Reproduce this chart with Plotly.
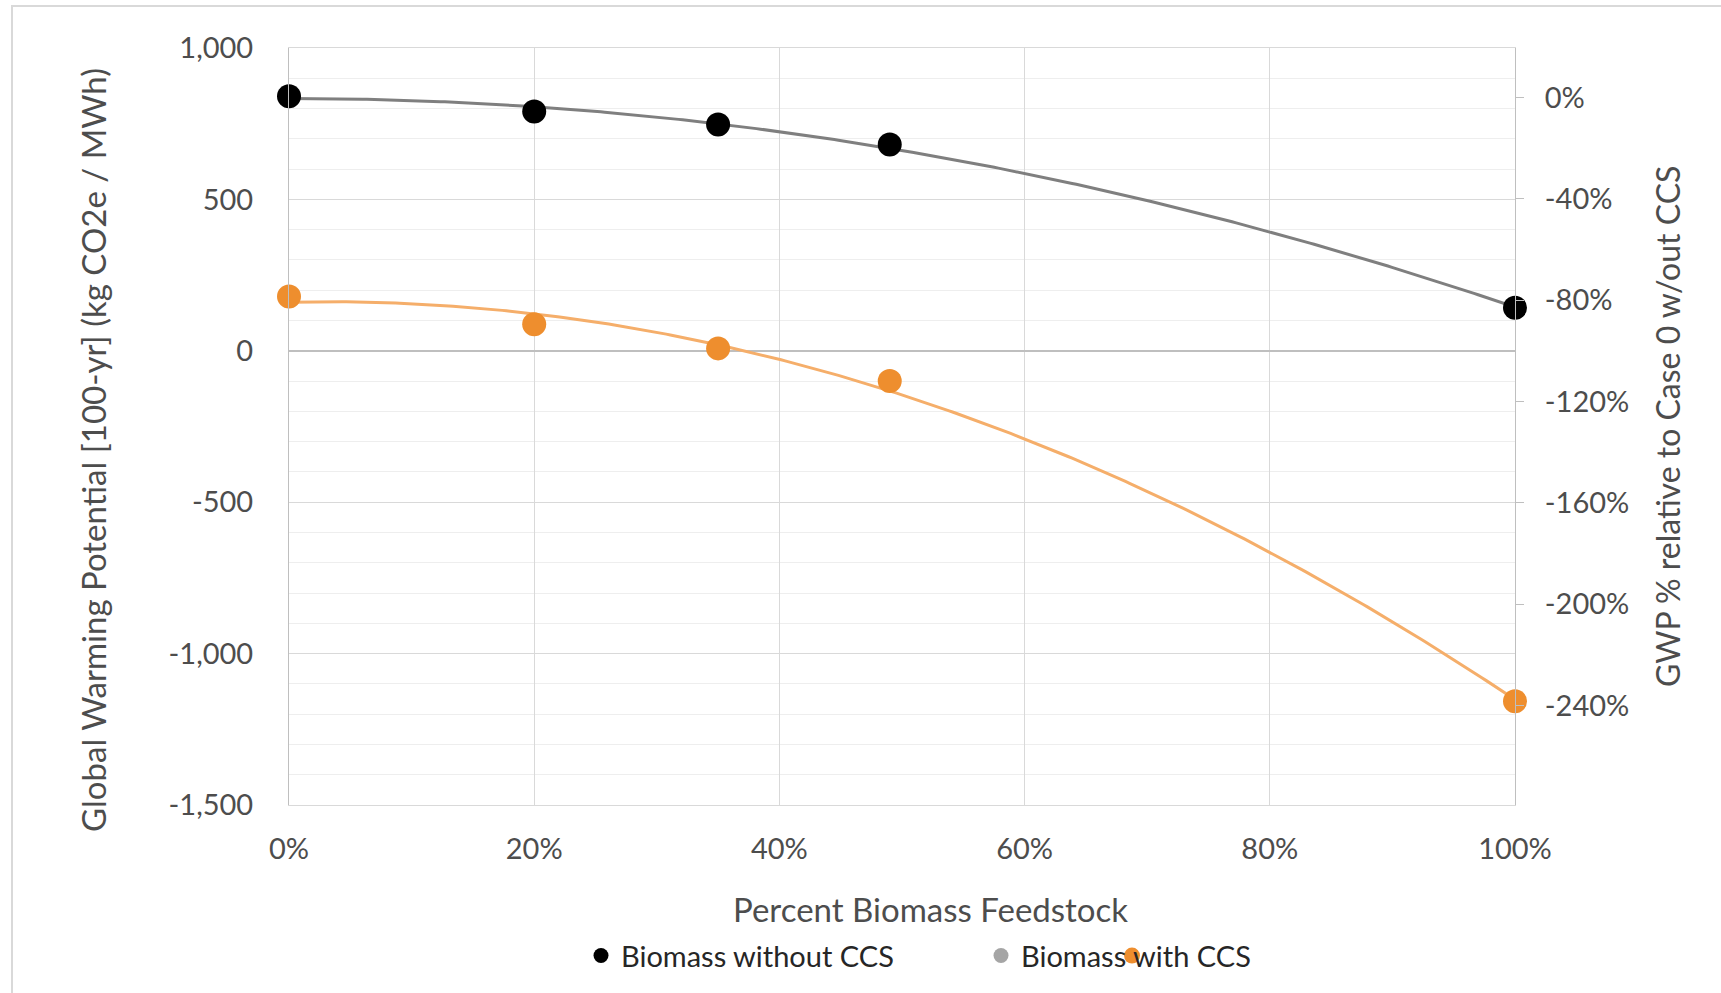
import numpy as np
import plotly.graph_objects as go

# ---------------- data ----------------
pct_biomass = [0.0, 0.20, 0.35, 0.49, 1.00]
gwp_without_ccs = [841, 790, 747, 681, 142]
gwp_with_ccs = [179, 88, 8, -100, -1157]

# value that the secondary (percent) axis treats as 0 %
gwp_case0_ref = 837

x_tick_vals = [0.0, 0.2, 0.4, 0.6, 0.8, 1.0]
x_tick_text = ["0%", "20%", "40%", "60%", "80%", "100%"]
y_tick_vals = [1000, 500, 0, -500, -1000, -1500]
y_tick_text = ["1,000", "500", "0", "-500", "-1,000", "-1,500"]
y2_tick_vals = [0.0, -0.4, -0.8, -1.2, -1.6, -2.0, -2.4, -2.8]
y2_tick_text = ["0%", "-40%", "-80%", "-120%", "-160%", "-200%", "-240%", "-280%"]

series_names = ["Biomass without CCS", "Biomass with CCS"]

# ---------------- figure ----------------
W, H = 1721, 993
L, R, T, B = 289, 206, 48, 186
pw, ph = W - L - R, H - T - B

def px(xp):
    return (xp - L) / pw

def py(yp):
    return (H - B - yp) / ph

FONT = "Lato"
TXT = "#4D4D4D"
TICK_SIZE = 29
TITLE_SIZE = 33

fig = go.Figure()

xs = np.linspace(0, 1, 300)
c1 = np.polyfit(pct_biomass, gwp_without_ccs, 2)
c2 = np.polyfit(pct_biomass, gwp_with_ccs, 2)

fig.add_trace(go.Scatter(x=xs, y=np.polyval(c1, xs), mode="lines",
                         line=dict(color="#7F7F7F", width=3),
                         showlegend=False, hoverinfo="skip", cliponaxis=False))
fig.add_trace(go.Scatter(x=xs, y=np.polyval(c2, xs), mode="lines",
                         line=dict(color="#F5AE6A", width=3),
                         showlegend=False, hoverinfo="skip", cliponaxis=False))
fig.add_trace(go.Scatter(x=pct_biomass, y=gwp_without_ccs, mode="markers",
                         marker=dict(color="#000000", size=24),
                         name=series_names[0], showlegend=False, cliponaxis=False))
fig.add_trace(go.Scatter(x=pct_biomass, y=gwp_with_ccs, mode="markers",
                         marker=dict(color="#EE8E2E", size=24),
                         name=series_names[1], showlegend=False, cliponaxis=False))
# secondary axis carrier (invisible)
fig.add_trace(go.Scatter(x=[pct_biomass[0]], y=[0], yaxis="y2", mode="markers",
                         marker=dict(opacity=0), showlegend=False, hoverinfo="skip"))
# legend entries
fig.add_trace(go.Scatter(x=[None], y=[None], mode="markers",
                         marker=dict(color="#000000", size=15),
                         name=series_names[0]))
fig.add_trace(go.Scatter(x=[None], y=[None], mode="markers",
                         marker=dict(color="#A5A5A5", size=15),
                         name=series_names[1]))

y2_top = (1000 - gwp_case0_ref) / gwp_case0_ref
y2_bot = (-1500 - gwp_case0_ref) / gwp_case0_ref

fig.update_layout(
    width=W, height=H,
    margin=dict(l=L, r=R, t=T, b=B),
    paper_bgcolor="white", plot_bgcolor="white",
    font=dict(family=FONT, color=TXT, size=TICK_SIZE),
    xaxis=dict(range=[0, 1], tickvals=x_tick_vals, ticktext=x_tick_text,
               showgrid=True, gridcolor="#D9D9D9", gridwidth=1,
               zeroline=False, showline=True, linecolor="#D9D9D9", mirror=True,
               ticks="", ticklabelstandoff=18,
               tickfont=dict(size=TICK_SIZE, color=TXT, family=FONT)),
    yaxis=dict(range=[-1500, 1000], tickvals=y_tick_vals, ticktext=y_tick_text,
               showgrid=True, gridcolor="#D9D9D9", gridwidth=1,
               minor=dict(dtick=100, tick0=0, showgrid=True, gridcolor="#EEEEEE", gridwidth=1),
               zeroline=True, zerolinecolor="#BFBFBF", zerolinewidth=2,
               showline=True, linecolor="#BFBFBF",
               ticks="", ticklabelstandoff=29,
               tickfont=dict(size=TICK_SIZE, color=TXT, family=FONT)),
    yaxis2=dict(overlaying="y", side="right", range=[y2_bot, y2_top],
                tickvals=y2_tick_vals, ticktext=y2_tick_text,
                showgrid=False, zeroline=False,
                showline=True, linecolor="#BFBFBF",
                ticks="outside", ticklen=8, tickcolor="#BFBFBF",
                ticklabelstandoff=15,
                tickfont=dict(size=TICK_SIZE, color=TXT, family=FONT)),
    legend=dict(orientation="h", x=px(581), xanchor="left",
                y=py(958), yanchor="middle",
                entrywidth=355, entrywidthmode="pixels",
                font=dict(size=29, color="#262626", family=FONT),
                bgcolor="rgba(0,0,0,0)", tracegroupgap=0),
    annotations=[
        dict(text="Percent Biomass Feedstock", xref="paper", yref="paper",
             x=px(930), y=py(911), xanchor="center", yanchor="middle",
             showarrow=False,
             font=dict(size=TITLE_SIZE, color=TXT, family=FONT)),
        dict(text="Global Warming Potential [100-yr] (kg CO2e / MWh)",
             xref="paper", yref="paper", x=px(93), y=py(451),
             xanchor="center", yanchor="middle", textangle=-90,
             showarrow=False, font=dict(size=TITLE_SIZE, color=TXT, family=FONT)),
        dict(text="GWP % relative to Case 0 w/out CCS",
             xref="paper", yref="paper", x=px(1668), y=py(428),
             xanchor="center", yanchor="middle", textangle=-90,
             showarrow=False, font=dict(size=32, color=TXT, family=FONT)),
    ],
    shapes=[
        dict(type="rect", xref="paper", yref="paper",
             x0=px(12), x1=px(1740), y0=py(1010), y1=py(6),
             line=dict(color="#D9D9D9", width=2), fillcolor="rgba(0,0,0,0)",
             layer="below"),
        dict(type="circle", xref="paper", yref="paper",
             xsizemode="pixel", ysizemode="pixel",
             xanchor=px(1132), yanchor=py(958),
             x0=-8, x1=8, y0=-8, y1=8,
             fillcolor="#EE8E2E", line=dict(width=0)),
    ],
)

fig.write_html("out.html")
